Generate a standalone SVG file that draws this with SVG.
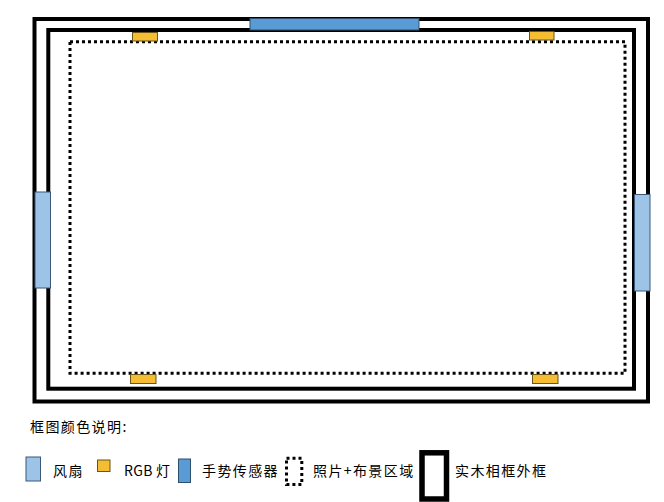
<svg xmlns="http://www.w3.org/2000/svg" width="664" height="502" viewBox="0 0 664 502">
<style>
.frame{fill:none;stroke:#000;stroke-width:4}
.zone{fill:none;stroke:#000;stroke-width:3;stroke-dasharray:3 3}
.fan{fill:#9dc3e6;stroke:#3b5878;stroke-width:1}
.led{fill:#f4bd33;stroke:#6b5416;stroke-width:1}
.sensor{fill:#5b9bd5;stroke:#2f4f6f;stroke-width:1}
.txt{font-family:"Noto Sans CJK SC","Liberation Sans",sans-serif;font-size:14px;fill:#000;letter-spacing:1.4px}
</style>
<rect width="664" height="502" fill="#fff"/>
<g id="outer-frame"><rect class="frame" x="34.5" y="19" width="613.5" height="382.5"/></g>
<g id="inner-frame"><rect class="frame" x="48.3" y="30" width="585.7" height="358.7"/></g>
<g id="photo-zone"><rect class="zone" x="70" y="41.7" width="555" height="331.6"/></g>
<g id="sensor-top"><rect class="sensor" x="250" y="18.5" width="169" height="11.5"/></g>
<g id="fan-left"><rect class="fan" x="35" y="192" width="15.5" height="96"/></g>
<g id="fan-right"><rect class="fan" x="634.5" y="194.5" width="15.5" height="96.5"/></g>
<g id="led-tl"><rect class="led" x="132.5" y="32.5" width="25" height="8.5"/></g>
<g id="led-tr"><rect class="led" x="529.5" y="31.5" width="24.5" height="8.5"/></g>
<g id="led-bl"><rect class="led" x="130.5" y="374.5" width="25.5" height="9"/></g>
<g id="led-br"><rect class="led" x="532.5" y="374.5" width="25.5" height="9"/></g>
<g id="legend">
<text class="txt" x="30" y="432">框图颜色说明:</text>
<rect class="fan" x="26" y="457" width="14.5" height="24"/>
<text class="txt" x="53" y="476">风扇</text>
<rect class="led" x="97.5" y="460" width="12.5" height="11.5"/>
<text class="txt" x="124" y="476" style="letter-spacing:0.3px">RGB 灯</text>
<rect class="sensor" x="178.5" y="459" width="12" height="23.5"/>
<text class="txt" x="202" y="476">手势传感器</text>
<rect class="zone" x="286.5" y="458.2" width="15.3" height="26.3"/>
<text class="txt" x="313" y="476">照片+布景区域</text>
<rect x="422" y="452.8" width="24.5" height="46.2" fill="none" stroke="#000" stroke-width="5.5"/>
<text class="txt" x="455" y="476">实木相框外框</text>
</g>
</svg>
